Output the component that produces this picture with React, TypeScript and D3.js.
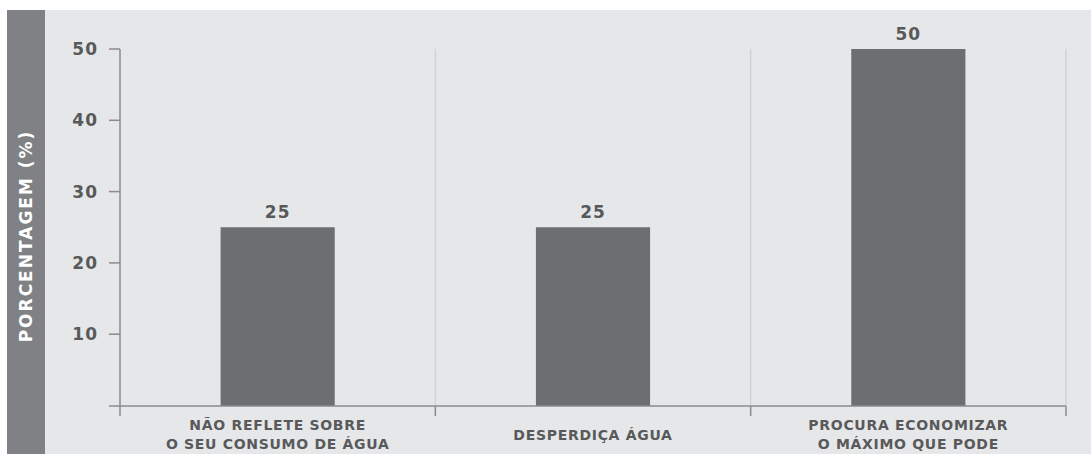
import React from "react";
import * as d3 from "d3";

const categories = [
  ["NÃO REFLETE SOBRE", "O SEU CONSUMO DE ÁGUA"],
  ["DESPERDIÇA ÁGUA"],
  ["PROCURA ECONOMIZAR", "O MÁXIMO QUE PODE"],
];
const values = [25, 25, 50];
const yTicks = [10, 20, 30, 40, 50];
const yLabel = "PORCENTAGEM (%)";

const W = 1091;
const H = 454;
const FONT = "'DejaVu Sans', 'Noto Sans', sans-serif";
const TEXT = "#58595b";
const BAR = "#6d6e70";

export default function App() {
  const x0 = 120;
  const x1 = 1066;
  const x = d3
    .scaleBand<number>()
    .domain(d3.range(categories.length))
    .range([x0, x1]);
  const y = d3.scaleLinear().domain([0, 50]).range([405.5, 49]);
  const barW = x.bandwidth() * 0.362;
  const axisY = 406;
  const sepTop = y(50);
  const sepBottom = 416;
  const seps = d3.range(categories.length).map((i) => (x(i) as number) + x.bandwidth());

  return (
    <svg
      width={W}
      height={H}
      style={{ position: "absolute", left: 0, top: 0, display: "block" }}
      fontFamily={FONT}
    >
      <rect x={0} y={0} width={W} height={H} fill="#ffffff" />
      <rect x={7} y={10} width={W - 7} height={H - 10} fill="#e6e7e8" />
      <rect x={7} y={10} width={38} height={H - 10} fill="#808184" />
      <text
        transform={`translate(32,236) rotate(-90)`}
        textAnchor="middle"
        fill="#ffffff"
        fontSize={17}
        fontWeight={700}
        letterSpacing={2}
      >
        {yLabel}
      </text>

      {/* category separators */}
      {seps.map((sx, i) => (
        <g key={i}>
          <line x1={sx} x2={sx} y1={sepTop} y2={axisY} stroke="#d1d3d4" strokeWidth={1.5} />
          <line x1={sx} x2={sx} y1={axisY} y2={sepBottom} stroke="#8a8b8d" strokeWidth={1.5} />
        </g>
      ))}

      {/* bars */}
      {values.map((v, i) => {
        const cx = (x(i) as number) + x.bandwidth() / 2;
        return (
          <g key={i}>
            <rect x={cx - barW / 2} y={y(v)} width={barW} height={y(0) - y(v) + 0.5} fill={BAR} />
            <text
              x={cx}
              y={y(v) - 9}
              textAnchor="middle"
              fill={TEXT}
              fontSize={17}
              fontWeight={700}
              letterSpacing={1}
            >
              {v}
            </text>
          </g>
        );
      })}

      {/* y axis */}
      <line x1={x0} x2={x0} y1={y(50)} y2={sepBottom} stroke="#8a8b8d" strokeWidth={1.5} />
      {yTicks.map((t) => (
        <g key={t}>
          <line x1={109} x2={x0} y1={y(t)} y2={y(t)} stroke="#8a8b8d" strokeWidth={1.5} />
          <text
            x={98}
            y={y(t)}
            dy="0.36em"
            textAnchor="end"
            fill={TEXT}
            fontSize={17}
            fontWeight={700}
            letterSpacing={1}
          >
            {t}
          </text>
        </g>
      ))}
      <line x1={109} x2={x1} y1={axisY} y2={axisY} stroke="#8a8b8d" strokeWidth={1.5} />

      {/* category labels */}
      {categories.map((lines, i) => {
        const cx = (x(i) as number) + x.bandwidth() / 2;
        return (
          <text
            key={i}
            textAnchor="middle"
            fill={TEXT}
            fontSize={14}
            fontWeight={700}
            letterSpacing={0.7}
          >
            {lines.map((l, j) => (
              <tspan key={j} x={cx} y={lines.length === 1 ? 440 : 430 + j * 19}>
                {l}
              </tspan>
            ))}
          </text>
        );
      })}
    </svg>
  );
}
